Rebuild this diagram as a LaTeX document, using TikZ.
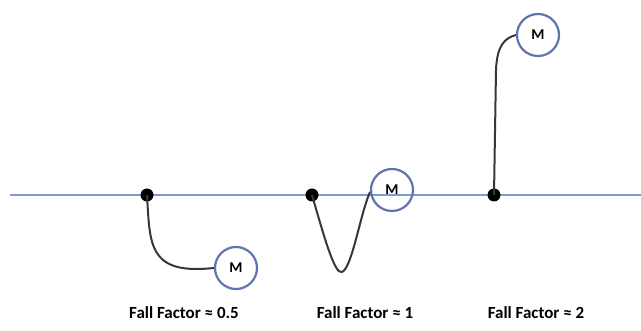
\documentclass[tikz,border=0pt]{standalone}
\usepackage{fontspec}
\setmainfont{Carlito}
\usetikzlibrary{positioning}
\definecolor{ropeblue}{RGB}{125,155,210}
\definecolor{massblue}{RGB}{95,115,175}
\definecolor{ropegray}{RGB}{55,55,55}
\tikzset{
    anchorpt/.style={circle,fill=black,inner sep=0pt,minimum size=13pt},
    mass/.style={circle,draw=massblue,line width=2.2pt,fill=white,inner sep=0pt,minimum size=42pt,font=\bfseries\fontsize{15}{17}\selectfont},
    rope/.style={draw=ropegray,line width=2pt},
    caption/.style={font=\bfseries\fontsize{17}{19}\selectfont}
}

\begin{document}
\begin{tikzpicture}[x=1pt,y=-1pt]
    \useasboundingbox (0,0) rectangle (641,331);
    \coordinate (l) at (10,195);
    \coordinate (r) at (641,195);
    \draw [ropeblue,line width=1.6pt] (l) -- (r);
    % three anchors with their masses
    \node [anchorpt] (a1) at (147,195) {};
    \node [anchorpt] (a2) at (312,195) {};
    \node [anchorpt] (a3) at (494,195) {};
    \node [mass] (m1) at (236,268) {M};
    \node [mass] (m3) at (538,35) {M};
    \path [rope]
        (a1.center) .. controls (150,245) and (148,275) .. (m1.west)
        (a3.center) -- (496,70) .. controls (497,45) and (505,38) .. (m3.west);
    \path [rope] (a2.center) .. controls (325,240) and (335,275) .. (342,272)
        .. controls (352,268) and (360,215) .. (370,192);
    \node [mass,fill=none] (m2) at (392,190) {M};
    \node [caption] (f1) at (184,313) {Fall Factor ≈ 0.5};
    \node [caption] (f2) at (365,313) {Fall Factor ≈ 1};
    \node [caption] (f3) at (536,313) {Fall Factor ≈ 2};
\end{tikzpicture}
\end{document}
